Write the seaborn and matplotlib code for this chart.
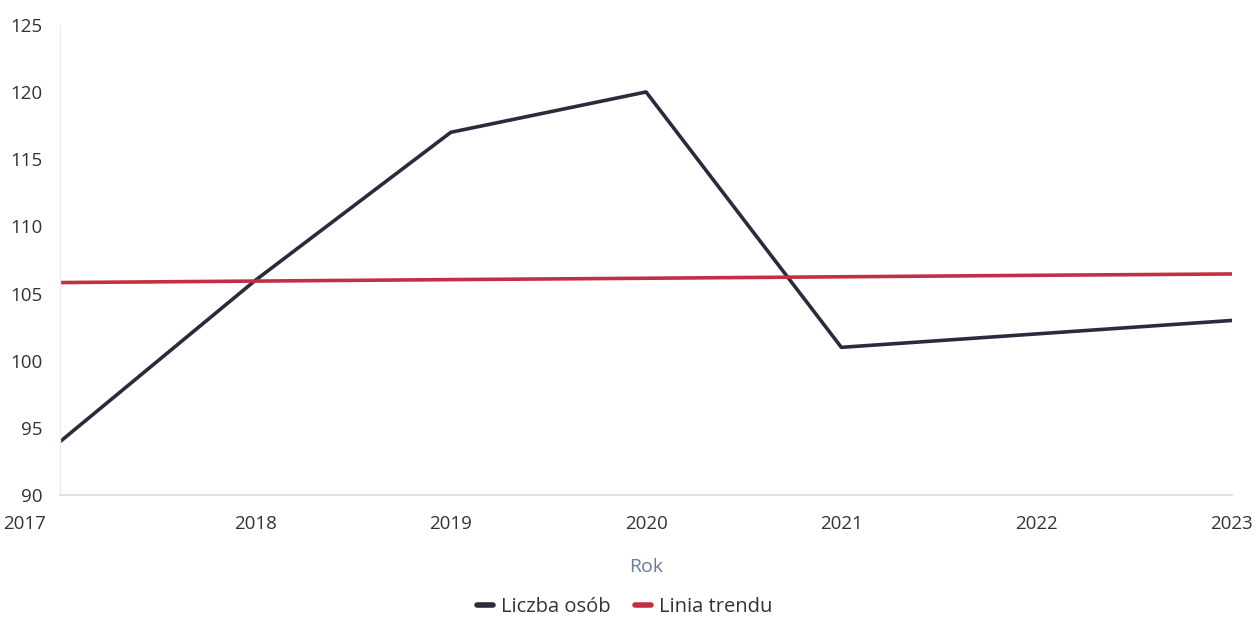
import matplotlib
matplotlib.use("Agg")
import matplotlib.pyplot as plt
import matplotlib.transforms as mtransforms
import seaborn as sns
import pandas as pd

years = [2017, 2018, 2019, 2020, 2021, 2022, 2023]
liczba_osob = [94, 106, 117, 120, 101, 102, 103]
linia_trendu = [105.82, 105.93, 106.04, 106.14, 106.25, 106.36, 106.46]

df = pd.DataFrame({"Rok": years, "Liczba osób": liczba_osob, "Linia trendu": linia_trendu})
long_df = df.melt(id_vars="Rok", var_name="seria", value_name="wartosc")

sns.set_style("white")
plt.rcParams['font.family'] = ['Open Sans', 'DejaVu Sans']

fig = plt.figure(figsize=(12.57, 6.19), dpi=100)
ax = fig.add_axes([0.048, 0.200, 0.932, 0.760])

sns.lineplot(data=long_df, x="Rok", y="wartosc", hue="seria",
             palette={"Liczba osób": "#2a2c3e", "Linia trendu": "#c22f45"},
             linewidth=2.6, ax=ax, legend=False)

ax.set_xlim(2017, 2023)
ax.set_ylim(90, 125)
ax.set_xticks(years)
ax.set_yticks(range(90, 126, 5))
ax.tick_params(axis="both", length=0, labelsize=13.5, labelcolor="#333333")
ax.tick_params(axis="y", pad=13)
ax.tick_params(axis="x", pad=14)

for s in ["top", "right"]:
    ax.spines[s].set_visible(False)
ax.spines["left"].set_color("#eceef3")
ax.spines["bottom"].set_color("#dcdcdc")
ax.spines["left"].set_linewidth(1)
ax.spines["bottom"].set_linewidth(1.2)

# first x label kept inside the chart like the original
fig.canvas.draw()
first = ax.get_xticklabels()[0]
first.set_transform(first.get_transform() +
                    mtransforms.ScaledTranslation(-0.36, 0, fig.dpi_scale_trans))

ax.set_xlabel("Rok", fontsize=14, color="#6d7a99", labelpad=18)
ax.set_ylabel("")

handles = [plt.Line2D([], [], color="#2a2c3e", lw=4),
           plt.Line2D([], [], color="#c22f45", lw=4)]
fig.legend(handles, ["Liczba osób", "Linia trendu"], loc="center",
           bbox_to_anchor=(0.497, 0.019), ncol=2, frameon=False,
           fontsize=14.5, handlelength=0.8, handletextpad=0.4, columnspacing=1.2,
           labelcolor="#333333")

fig.savefig("out.png", dpi=100, facecolor="white")
